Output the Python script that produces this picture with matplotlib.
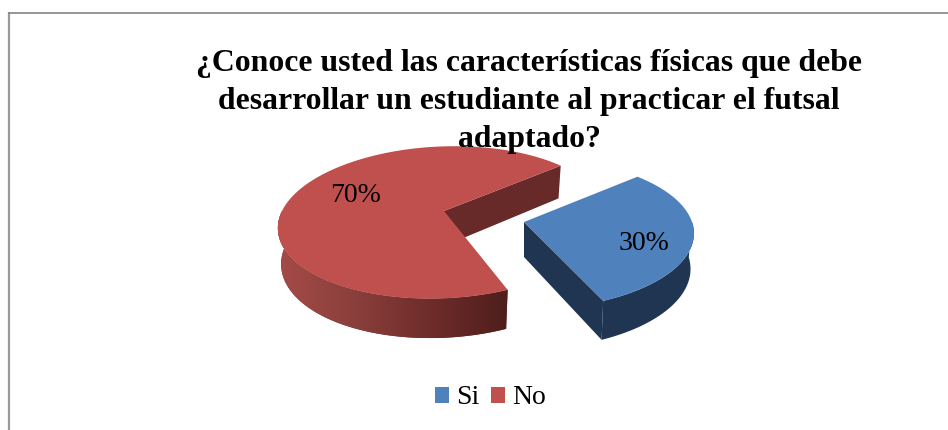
import numpy as np
import matplotlib
matplotlib.use("Agg")
import matplotlib.pyplot as plt
from matplotlib.patches import Polygon, Patch
from matplotlib.colors import LinearSegmentedColormap

title = "¿Conoce usted las características físicas que debe\ndesarrollar un estudiante al practicar el futsal\nadaptado?"
categories = ["Si", "No"]
values = [30, 70]
labels = ["30%", "70%"]
top_colors = ["#4F81BD", "#C0504D"]
cut_colors = ["#1F3552", "#672A28"]

START = 48.0
G, K = 74.5, 0.15
H = 35.0
X0 = 524.0
RADIUS = {"Si": 168.0, "No": 162.0}
APEX = {"Si": (524.0, 222.0), "No": (444.0, 211.0)}


def project(cat, deg, r=1.0, lower=False):
    apex = APEX[cat]
    t = np.radians(deg)
    x, y = r * np.sin(t), r * np.cos(t)
    w = 1 + K * y
    s = 0.98 if lower else 1.0
    px = X0 + (apex[0] - X0 + s * RADIUS[cat] * x) / w
    py = apex[1] - s * G * y / w
    if lower:
        py = py + H / w
    return px, py


fig = plt.figure(figsize=(9.48, 4.30), dpi=100)
ax = fig.add_axes([0, 0, 1, 1])
ax.set_xlim(0, 948)
ax.set_ylim(430, 0)
ax.axis("off")

ax.plot([9, 9], [12, 430], color="#9a9a9a", lw=1.6, solid_capstyle="butt")
ax.plot([8, 948], [12.5, 12.5], color="#858585", lw=1.2, solid_capstyle="butt")

side_cmap = LinearSegmentedColormap.from_list("side", ["#A54B48", "#8A3F3C", "#6E2C2A", "#4E1E1B"])

spans = np.array(values) / sum(values) * 360.0
angle = START
for cat, span, col, cut in zip(categories, spans, top_colors, cut_colors):
    a0, a1 = angle, angle + span
    arc = np.linspace(a0, a1, 300)
    # the flat cut that faces the viewer
    cut_angle = a1 if cat == "Si" else a0
    wall = [project(cat, cut_angle, 0), project(cat, cut_angle), project(cat, cut_angle, 1, True), project(cat, cut_angle, 0, True)]
    if cat == "Si":
        ax.add_patch(Polygon(wall, closed=True, fc=cut, ec="none"))
    # the outer rim, only where it faces the viewer
    vis = arc[(arc >= 90) & (arc <= 270)]
    rim = [project(cat, a) for a in vis] + [project(cat, a, 1, True) for a in vis[::-1]]
    rim_patch = Polygon(rim, closed=True, fc=cut, ec="none")
    ax.add_patch(rim_patch)
    if cat == "No":
        rim_arr = np.array(rim)
        grad = np.linspace(0, 1, 256).reshape(1, -1)
        im = ax.imshow(grad, cmap=side_cmap, aspect="auto", zorder=1.5,
                       extent=(rim_arr[:, 0].min(), rim_arr[:, 0].max(), rim_arr[:, 1].max(), rim_arr[:, 1].min()))
        im.set_clip_path(rim_patch)
        ax.set_xlim(0, 948)
        ax.set_ylim(430, 0)
        far = [project(cat, a1, 0), project(cat, a1), project(cat, a1, 1, True), project(cat, a1, 0, True)]
        ax.add_patch(Polygon(far, closed=True, fc=cut, ec="none", zorder=1.6))
    top = [project(cat, a, 1) for a in arc] + [project(cat, a0, 0)]
    ax.add_patch(Polygon(top, closed=True, fc=col, ec="none", zorder=2))
    angle = a1

ax.text(644, 243, labels[0], ha="center", va="center", family="Liberation Serif", fontsize=20, color="black", zorder=3)
ax.text(355.5, 196, labels[1], ha="center", va="center", family="Liberation Serif", fontsize=20, color="black", zorder=3)

for i, line in enumerate(title.split("\n")):
    ax.text(529, 63.5 + i * 38, line, ha="center", va="center", family="Liberation Serif",
            fontweight="bold", fontsize=22.9, color="black", zorder=4)

handles = [Patch(fc=c, ec="none") for c in top_colors]
ax.legend(handles, categories, loc="center", bbox_to_anchor=(490.5, 398), bbox_transform=ax.transData,
          ncol=2, frameon=False, prop={"family": "Liberation Serif", "size": 20},
          handlelength=0.52, handleheight=0.52, handletextpad=0.25, columnspacing=0.4, borderpad=0, borderaxespad=0)

fig.savefig("out.png", dpi=100)
